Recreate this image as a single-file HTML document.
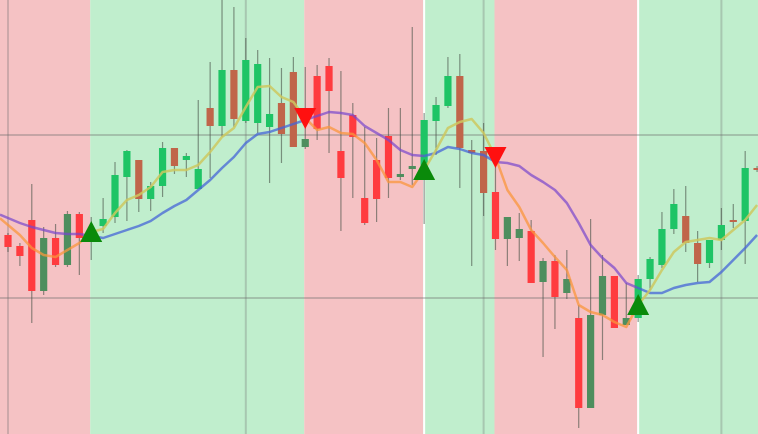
<!DOCTYPE html>
<html><head><meta charset="utf-8"><style>
html,body{margin:0;padding:0;background:#fff;}
svg{display:block;}
</style></head><body>
<svg id="chart" width="758" height="434" viewBox="0 0 758 434" xmlns="http://www.w3.org/2000/svg"></svg>
<script>
const opens  = [199,188,214,143,196,169,220,196,208,217,257,274,235,248,286,274,245,326,308,364,313,311,307,331,362,287,358,368,283,319,236,274,298,257,265,264,313,328,358,284,283,242,195,196,203,152,173,141,116,26,119,158,109,116,155,169,205,218,191,171,194,214,213,266];
const closes = [187,178,143,196,169,220,196,204,215,259,283,235,248,286,268,278,265,308,364,315,374,370,320,300,287,295,305,343,256,297,211,235,256,260,268,314,329,358,286,281,241,195,217,205,151,173,137,155,26,119,158,106,116,155,175,205,230,191,170,194,209,212,266,264];
const highs  = [201,191,250,207,210,223,222,217,236,272,284,274,252,292,286,281,334,372,436,427,396,384,376,366,377,367,369,376,363,331,307,296,326,326,407,321,337,377,380,294,311,281,217,221,214,176,179,184,129,215,179,158,151,159,177,222,245,248,203,194,226,230,283,268];
const lows   = [182,168,111,139,167,167,159,174,201,211,213,222,223,237,260,257,245,256,297,307,311,301,251,271,287,285,294,281,203,236,209,212,236,254,249,210,279,326,246,168,218,184,168,173,151,77,105,135,6,26,74,106,109,112,144,166,200,182,152,166,184,206,170,262];
const fastMA = [209,199,186,179,177,184,191,202,205,221,234,239,247,262,264,264,269,282,297,306,327,347,348,337,332,316,304,307,301,300,291,274,252,252,247,264,284,306,312,315,301,277,244,227,204,191,177,164,129,122,119,112,107,129,144,164,182,192,194,196,194,204,214,229];
const slowMA = [216,211,207,204,201,200,200,198,196,200,204,208,213,221,228,234,244,254,266,277,291,300,302,306,310,314,318,322,321,319,308,301,294,284,279,278,281,287,285,281,279,272,271,268,259,252,244,231,211,189,176,166,151,146,141,141,146,149,151,152,162,174,186,199];
const buySignals  = [7,35,53];
const sellSignals = [25,41];
const regimeStarts = [0,7,25,35,41,53];
const regimeTypes  = ["bear","bull","bear","bull","bear","bull"];
const gridPrices = [299,136];
const gridIdx = [0,20,40,60];

const W=758,H=434,N=opens.length;
const xs=i=>8+i*11.89;
const ys=v=>H-v;
const svg=document.getElementById('chart');
const NS='http://www.w3.org/2000/svg';
function mk(tag,attrs,parent){const e=document.createElementNS(NS,tag);for(const k in attrs)e.setAttribute(k,attrs[k]);(parent||svg).appendChild(e);return e;}

const defs=mk('defs',{});
const clipBull=mk('clipPath',{id:'clip-bull'},defs);
const clipBear=mk('clipPath',{id:'clip-bear'},defs);
// regimes
for(let r=0;r<regimeStarts.length;r++){
  const x0=r===0?0:xs(regimeStarts[r])-1;
  const x1=r===regimeStarts.length-1?W:xs(regimeStarts[r+1])-1;
  const e=mk('rect',{x:x0,y:0,width:x1-x0,height:H,fill:regimeTypes[r]==='bull'?'#c0eecd':'#f5c2c4'});
  
  
  mk('rect',{x:x0,y:0,width:x1-x0,height:H},regimeTypes[r]==='bull'?clipBull:clipBear);
}
[3,5].forEach(r=>{
  const e=mk('rect',{x:xs(regimeStarts[r])-1,y:0,width:2,height:H,fill:'#ffffff'});
  
  
});
// grid
gridPrices.forEach(p=>{
  const e=mk('line',{x1:0,x2:W,y1:ys(p),y2:ys(p),stroke:'rgba(110,110,110,0.35)','stroke-width':2});
  
  
});
gridIdx.forEach(i=>{
  const e=mk('line',{x1:xs(i),x2:xs(i),y1:0,y2:H,stroke:'rgba(110,110,110,0.3)','stroke-width':2});
  
  
});
function regimeOf(i){let t='bear';for(let r=0;r<regimeStarts.length;r++){if(i>=regimeStarts[r])t=regimeTypes[r];}return t;}
// candles
for(let i=0;i<N;i++){
  const x=xs(i),up=closes[i]>=opens[i],reg=regimeOf(i);
  const col=reg==='bull'?(up?'#1ec465':'#c0654a'):(up?'#4e8e5e':'#ff3b3f');
  const w=mk('line',{x1:x,x2:x,y1:ys(highs[i]),y2:ys(lows[i]),stroke:'rgba(70,80,70,0.6)','stroke-width':1.2});
  
  
  const top=ys(Math.max(opens[i],closes[i])),bot=ys(Math.min(opens[i],closes[i]));
  const b=mk('rect',{x:x-3.6,y:top,width:7.2,height:Math.max(2,bot-top),fill:col});
  
  
}
// MA lines, colored by regime via clip paths
function line(arr,bullColor,bearColor,name){
  const pts=arr.map((v,i)=>xs(i)+','+ys(v));
  const y0=ys(arr[0]-(arr[1]-arr[0])*8/11.89);
  const p='0,'+y0+' '+pts.join(' ');
  [['bull',bullColor],['bear',bearColor]].forEach(([k,c])=>{
    const e=mk('polyline',{points:p,fill:'none',stroke:c,'stroke-width':2.5,'stroke-linejoin':'round','clip-path':'url(#clip-'+k+')'});
    
    
  });
}
line(slowMA,'rgba(70,100,215,0.75)','rgba(120,70,205,0.7)','slow-ma-line');
line(fastMA,'rgba(205,200,95,0.85)','rgba(250,150,60,0.75)','fast-ma-line');
// signals
buySignals.forEach(i=>{
  const x=xs(i),y=ys(fastMA[i]);
  const e=mk('polygon',{points:`${x},${y-11} ${x-11},${y+10} ${x+11},${y+10}`,fill:'#0a8a0a'});
  
  
});
sellSignals.forEach(i=>{
  const x=xs(i),y=ys(fastMA[i]);
  const e=mk('polygon',{points:`${x-11},${y-10} ${x+11},${y-10} ${x},${y+11}`,fill:'#ff1010'});
  
  
});
</script>
</body></html>
